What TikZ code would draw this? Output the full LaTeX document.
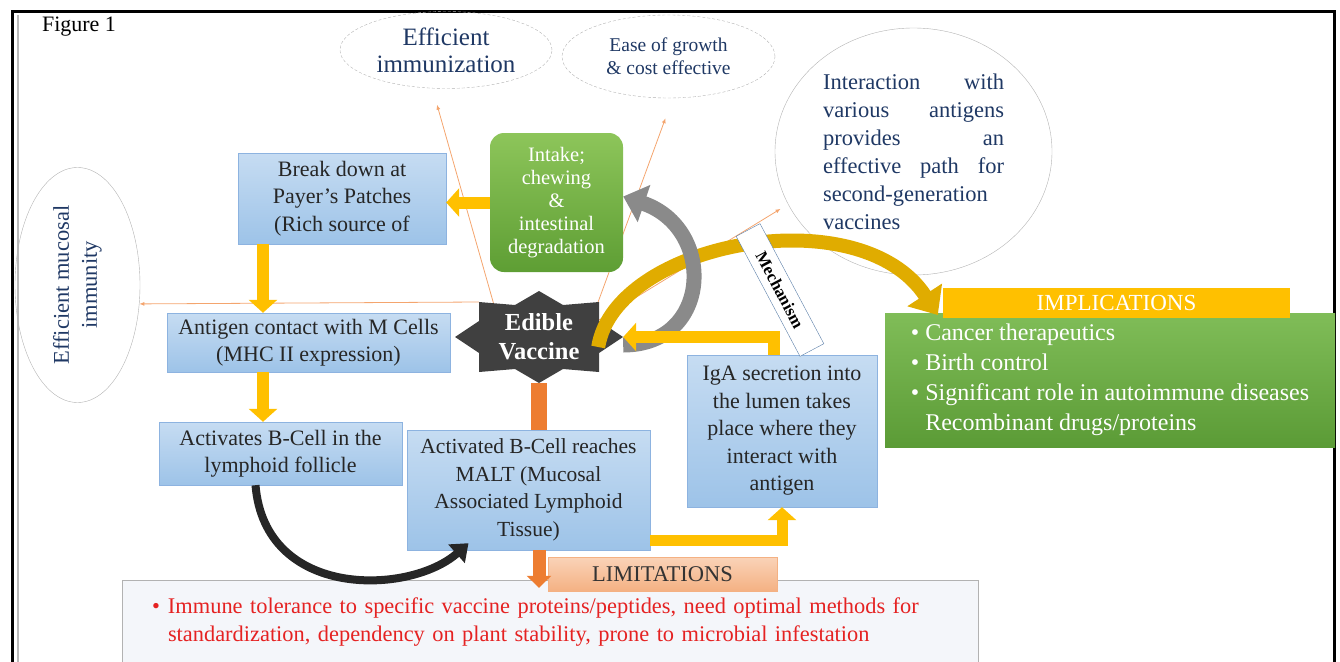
\documentclass[tikz,border=0pt]{standalone}
\usepackage{fontspec}
\setmainfont{Liberation Serif}
\usetikzlibrary{arrows.meta,positioning,calc,shapes.geometric}

\definecolor{boxtop}{HTML}{C6DCF2}
\definecolor{boxbot}{HTML}{9DC3E8}
\definecolor{boxline}{HTML}{8DB3E0}
\definecolor{navytext}{HTML}{1F3864}
\definecolor{intaketop}{HTML}{8DC55A}
\definecolor{intakebot}{HTML}{5E9E34}
\definecolor{impltop}{HTML}{80BD58}
\definecolor{implbot}{HTML}{5B9B36}
\definecolor{ambar}{HTML}{FFC000}
\definecolor{goldarc}{HTML}{E0AC00}
\definecolor{arcgray}{HTML}{8A8A8A}
\definecolor{orangebar}{HTML}{ED7D31}
\definecolor{raycol}{HTML}{F4A56E}
\definecolor{limtop}{HTML}{FAD3B8}
\definecolor{limbot}{HTML}{F4B183}
\definecolor{limfill}{HTML}{F4F6FA}
\definecolor{limred}{HTML}{E52222}
\definecolor{starcol}{HTML}{404040}
\definecolor{mechline}{HTML}{5A7EA8}

\begin{document}
\begin{tikzpicture}[x=1pt,y=-1pt,
  box/.style={draw=boxline,top color=boxtop,bottom color=boxbot,align=center,inner sep=1pt,font=\fontsize{22}{27.5}\selectfont,text=black!85},
  gbox/.style={rounded corners=14pt,top color=intaketop,bottom color=intakebot,align=center,text=white,font=\fontsize{20.5}{23}\selectfont},
  ell/.style={ellipse,draw=gray!60,align=center,inner sep=0pt,text=navytext},
  yarrow/.style={draw=ambar,line width=12pt,-{Triangle[length=13pt,width=28pt]}},
  ray/.style={draw=raycol,line width=0.8pt,-{Latex[length=5pt,width=4pt]}}
]
\useasboundingbox (0,0) rectangle (1340,661);
\clip (0,0) rectangle (1340,661);

% frame
\draw[line width=3pt] (12,680) -- (12,11.5) -- (1334,11.5) -- (1334,680);
\draw[gray!55,line width=2pt] (17.5,680) -- (17.5,15);
\node[font=\fontsize{22}{26}\selectfont] (fig) at (79,27) {Figure 1};

% benefits
\node[ell,densely dashed,minimum width=212,minimum height=77,font=\fontsize{25}{27}\selectfont] (eff1) at (446,50) {Efficient\\immunization};
\node[ell,densely dashed,minimum width=213,minimum height=83,font=\fontsize{19.5}{23}\selectfont] (eff2) at (668.5,56.5) {Ease of growth\\\& cost effective};
\node[ell,minimum width=277,minimum height=247,text width=181pt,align=left,font=\fontsize{22.5}{28}\selectfont] (inter) at (913.5,151.5) {Interaction\hfill with\\various\hfill antigens\\provides\hfill an\\effective\hfill path\hfill for\\second-generation\\vaccines};
\node[ell,rotate=90,minimum width=235,minimum height=125,font=\fontsize{22.5}{28}\selectfont] (muc) at (77.5,285) {Efficient mucosal\\immunity};

\coordinate (vc) at (539,337);
\draw[ray] ([shift={(-45,-32)}]vc) -- ([shift={(-9,16)}]eff1.south);
\draw[ray] ([shift={(58,-32)}]vc) -- ([shift={(-3,20)}]eff2.south);
\draw[ray] ([shift={(60,-17)}]vc) -- ([xshift=-10pt]inter.205);
\draw[ray] ([shift={(-60,-35)}]vc) -- (muc.-107);

% pathway
\node[box,minimum width=208,minimum height=91] (brk) at (342,198.5) {Break down at\\Payer's Patches\\(Rich source of};
\node[gbox,minimum width=133,minimum height=139] (intake) at (556.5,202.5) {Intake;\\chewing\\\&\\intestinal\\degradation};
\node[box,minimum width=283,minimum height=59] (ant) at (308.5,342.5) {Antigen contact with M Cells\\(MHC II expression)};
\node[box,minimum width=243,minimum height=63] (act) at (280.5,453.5) {Activates B-Cell in the\\lymphoid follicle};
\node[box,minimum width=243,minimum height=120,font=\fontsize{21.5}{27.5}\selectfont] (malt) at (528.5,490) {Activated B-Cell reaches\\MALT (Mucosal\\Associated Lymphoid\\Tissue)};
\node[box,minimum width=190,minimum height=152] (iga) at (782,431) {IgA secretion into\\the lumen takes\\place where they\\interact with\\antigen};

% implications and limitations
\node[top color=impltop,bottom color=implbot,minimum width=450,minimum height=134,align=left,text=white,font=\fontsize{24}{30}\selectfont] (impl) at (1110,380) {\textbullet\ Cancer therapeutics\\\textbullet\ Birth control\\\textbullet\ Significant role in autoimmune diseases\\\hphantom{\textbullet\ }Recombinant drugs/proteins};
\node[fill=ambar,minimum width=347,minimum height=30,inner sep=0pt,text=white,font=\fontsize{23}{26}\selectfont] (implhead) at (1116.5,303) {IMPLICATIONS};
\node[draw=gray!60,fill=limfill,text width=796pt,inner xsep=30pt,minimum height=84,align=left,text=limred,font=\fontsize{22.4}{28}\selectfont] (lim) at (550,622) {\makebox[16pt][l]{\textbullet}Immune tolerance to specific vaccine proteins/peptides, need optimal methods for\\\hspace*{16pt}standardization, dependency on plant stability, prone to microbial infestation};
\node[draw=limbot,top color=limtop,bottom color=limbot,minimum width=229,minimum height=34,inner sep=0pt,text=black!80,font=\fontsize{22.5}{26}\selectfont] (limhead) at (662.5,574) {LIMITATIONS};

% edible vaccine
\fill[starcol,shift={(vc)}] (0,-46) -- (24,-32) -- (60,-35) -- (60,-16) -- (84,0) -- (60,16) -- (60,35) -- (24,32) -- (0,46) -- (-24,32) -- (-60,35) -- (-60,16) -- (-84,0) -- (-60,-16) -- (-60,-35) -- (-24,-32) -- cycle;
\node[minimum width=168,minimum height=92,align=center,text=white,font=\bfseries\fontsize{24.5}{29}\selectfont] (vac) at (vc) {Edible\\Vaccine};

% arrows
\draw[orangebar,line width=16pt] (vac.south) -- ([xshift=10.5pt]malt.north);
\draw[orangebar,line width=13pt,-{Triangle[length=12pt,width=24pt]}] ([xshift=10.5pt]malt.south) -- ([shift={(-11,8)}]lim.north);
\draw[draw=black!85,line width=8pt,-{Triangle[length=16pt,width=24pt]}] ([xshift=-25pt]act.south) .. controls (265,600) and (410,595) .. ([shift={(-60,-7)}]malt.south);
\draw[draw=goldarc,line width=14pt,-{Triangle[length=24pt,width=40pt]}] ([shift={(-25,10)}]vac.east) .. controls (615,242) and (860,196) .. ([shift={(-5,12)}]implhead.west);
\node[draw=mechline,fill=white,rotate=-62,minimum width=136,minimum height=27,inner sep=1pt,font=\bfseries\fontsize{17}{20}\selectfont] (mech) at (780,290) {Mechanism};
\draw[draw=arcgray,line width=15pt,-{Triangle[length=22pt,width=38pt]}] ([yshift=-8pt]vac.east) .. controls (712,345) and (716,228) .. ([yshift=6pt]intake.east);
\draw[yarrow] (intake.west) -- (intake.west -| brk.east);
\draw[yarrow] ([xshift=-79pt]brk.south) -- ([xshift=-45.5pt]ant.north);
\draw[yarrow] ([xshift=-45.5pt]ant.south) -- ([xshift=-17.5pt]act.north);
\draw[yarrow,line width=11pt] ([yshift=-50pt]malt.east) -| (iga.south);
\draw[yarrow] ([xshift=-8pt]iga.north) |- (vac.east);
\end{tikzpicture}
\end{document}
